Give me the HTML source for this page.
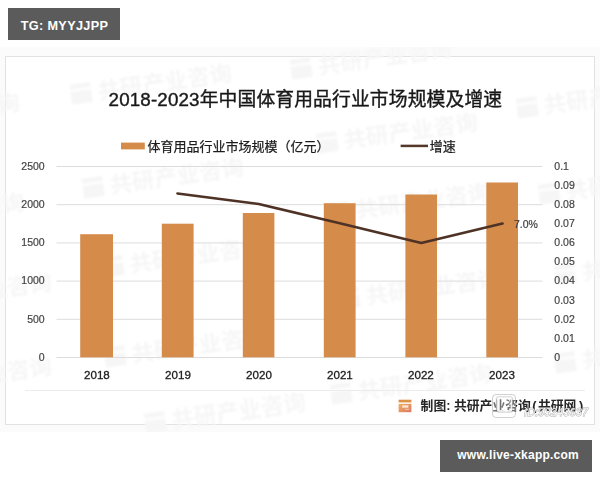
<!DOCTYPE html>
<html><head><meta charset="utf-8"><title>chart</title>
<style>html,body{margin:0;padding:0;background:#fff;font-family:"Liberation Sans",sans-serif;}svg{display:block}svg text{font-family:"Liberation Sans","Noto Sans CJK SC",sans-serif;}</style>
</head><body>
<svg width="600" height="480" viewBox="0 0 600 480">
<defs><filter id="wb" x="-5%" y="-5%" width="110%" height="110%"><feGaussianBlur stdDeviation="1.3"/></filter><filter id="b1" x="-20%" y="-20%" width="140%" height="140%"><feGaussianBlur stdDeviation="0.45"/></filter><linearGradient id="lg" x1="0" y1="0" x2="1" y2="1"><stop offset="0" stop-color="#f0b25e"/><stop offset="1" stop-color="#dc7668"/></linearGradient><filter id="soft" filterUnits="userSpaceOnUse" x="0" y="47" width="600" height="385"><feGaussianBlur stdDeviation="0.32"/></filter><clipPath id="ci"><rect x="0" y="47" width="600" height="385"/></clipPath><clipPath id="cc"><rect x="6" y="57" width="588" height="367"/></clipPath></defs>
<rect x="0" y="0" width="600" height="480" fill="#ffffff"/>
<g filter="url(#soft)">
<rect x="0" y="47" width="600" height="385" fill="#fbfbfb"/>
<rect x="5.5" y="56.5" width="589" height="368" fill="#ffffff" stroke="#e2e2e2" stroke-width="1"/>
<g filter="url(#wb)" clip-path="url(#ci)">
<g transform="rotate(-8 72 103)" fill="#f6f6f6"><rect x="72" y="84.6" width="20.7" height="5.1"/><rect x="72" y="92" width="20.7" height="12.7"/><text x="99.3" y="103.3" font-size="22.5" font-weight="bold">共研产业咨询</text></g>
<g transform="rotate(-8 84 197)" fill="#f6f6f6"><rect x="84" y="178.6" width="20.7" height="5.1"/><rect x="84" y="186" width="20.7" height="12.7"/><text x="111.3" y="197.3" font-size="22.5" font-weight="bold">共研产业咨询</text></g>
<g transform="rotate(-8 104 276)" fill="#f6f6f6"><rect x="104" y="257.6" width="20.7" height="5.1"/><rect x="104" y="265" width="20.7" height="12.7"/><text x="131.3" y="276.3" font-size="22.5" font-weight="bold">共研产业咨询</text></g>
<g transform="rotate(-8 106 366)" fill="#f6f6f6"><rect x="106" y="347.6" width="20.7" height="5.1"/><rect x="106" y="355" width="20.7" height="12.7"/><text x="133.3" y="366.3" font-size="22.5" font-weight="bold">共研产业咨询</text></g>
<g transform="rotate(-8 146 432)" fill="#f6f6f6"><rect x="146" y="413.6" width="20.7" height="5.1"/><rect x="146" y="421" width="20.7" height="12.7"/><text x="173.3" y="432.3" font-size="22.5" font-weight="bold">共研产业咨询</text></g>
<g transform="rotate(-8 -140 132)" fill="#f6f6f6"><rect x="-140" y="113.6" width="20.7" height="5.1"/><rect x="-140" y="121" width="20.7" height="12.7"/><text x="-112.7" y="132.3" font-size="22.5" font-weight="bold">共研产业咨询</text></g>
<g transform="rotate(-8 -135 232)" fill="#f6f6f6"><rect x="-135" y="213.6" width="20.7" height="5.1"/><rect x="-135" y="221" width="20.7" height="12.7"/><text x="-107.7" y="232.3" font-size="22.5" font-weight="bold">共研产业咨询</text></g>
<g transform="rotate(-8 -108 312)" fill="#f6f6f6"><rect x="-108" y="293.6" width="20.7" height="5.1"/><rect x="-108" y="301" width="20.7" height="12.7"/><text x="-80.7" y="312.3" font-size="22.5" font-weight="bold">共研产业咨询</text></g>
<g transform="rotate(-8 -108 396)" fill="#f6f6f6"><rect x="-108" y="377.6" width="20.7" height="5.1"/><rect x="-108" y="385" width="20.7" height="12.7"/><text x="-80.7" y="396.3" font-size="22.5" font-weight="bold">共研产业咨询</text></g>
<g transform="rotate(-8 292 78)" fill="#f6f6f6"><rect x="292" y="59.6" width="20.7" height="5.1"/><rect x="292" y="67" width="20.7" height="12.7"/><text x="319.3" y="78.3" font-size="22.5" font-weight="bold">共研产业咨询</text></g>
<g transform="rotate(-8 318 152)" fill="#f6f6f6"><rect x="318" y="133.6" width="20.7" height="5.1"/><rect x="318" y="141" width="20.7" height="12.7"/><text x="345.3" y="152.3" font-size="22.5" font-weight="bold">共研产业咨询</text></g>
<g transform="rotate(-8 518 117)" fill="#f6f6f6"><rect x="518" y="98.6" width="20.7" height="5.1"/><rect x="518" y="106" width="20.7" height="12.7"/><text x="545.3" y="117.3" font-size="22.5" font-weight="bold">共研产业咨询</text></g>
<g transform="rotate(-8 540 203)" fill="#f6f6f6"><rect x="540" y="184.6" width="20.7" height="5.1"/><rect x="540" y="192" width="20.7" height="12.7"/><text x="567.3" y="203.3" font-size="22.5" font-weight="bold">共研产业咨询</text></g>
<g transform="rotate(-8 330 222)" fill="#f6f6f6"><rect x="330" y="203.6" width="20.7" height="5.1"/><rect x="330" y="211" width="20.7" height="12.7"/><text x="357.3" y="222.3" font-size="22.5" font-weight="bold">共研产业咨询</text></g>
<g transform="rotate(-8 340 308)" fill="#f6f6f6"><rect x="340" y="289.6" width="20.7" height="5.1"/><rect x="340" y="297" width="20.7" height="12.7"/><text x="367.3" y="308.3" font-size="22.5" font-weight="bold">共研产业咨询</text></g>
<g transform="rotate(-8 332 403)" fill="#f6f6f6"><rect x="332" y="384.6" width="20.7" height="5.1"/><rect x="332" y="392" width="20.7" height="12.7"/><text x="359.3" y="403.3" font-size="22.5" font-weight="bold">共研产业咨询</text></g>
<g transform="rotate(-8 556 284)" fill="#f6f6f6"><rect x="556" y="265.6" width="20.7" height="5.1"/><rect x="556" y="273" width="20.7" height="12.7"/><text x="583.3" y="284.3" font-size="22.5" font-weight="bold">共研产业咨询</text></g>
<g transform="rotate(-8 556 372)" fill="#f6f6f6"><rect x="556" y="353.6" width="20.7" height="5.1"/><rect x="556" y="361" width="20.7" height="12.7"/><text x="583.3" y="372.3" font-size="22.5" font-weight="bold">共研产业咨询</text></g>
</g>
<line x1="56.5" x2="542.5" y1="357.5" y2="357.5" stroke="#dcdcdc" stroke-width="1"/>
<line x1="56.5" x2="542.5" y1="319.3" y2="319.3" stroke="#dcdcdc" stroke-width="1"/>
<line x1="56.5" x2="542.5" y1="281.1" y2="281.1" stroke="#dcdcdc" stroke-width="1"/>
<line x1="56.5" x2="542.5" y1="242.9" y2="242.9" stroke="#dcdcdc" stroke-width="1"/>
<line x1="56.5" x2="542.5" y1="204.7" y2="204.7" stroke="#dcdcdc" stroke-width="1"/>
<line x1="56.5" x2="542.5" y1="166.5" y2="166.5" stroke="#dcdcdc" stroke-width="1"/>
<line x1="25" x2="585" y1="390.5" y2="390.5" stroke="#ececec" stroke-width="1"/>
<rect x="80.2" y="234.2" width="32.8" height="123.1" fill="#d58c4c"/>
<rect x="161.8" y="223.7" width="31.8" height="133.6" fill="#d58c4c"/>
<rect x="242.8" y="213.0" width="31.6" height="144.3" fill="#d58c4c"/>
<rect x="323.8" y="203.2" width="31.8" height="154.1" fill="#d58c4c"/>
<rect x="405.4" y="194.5" width="31.6" height="162.8" fill="#d58c4c"/>
<rect x="486.3" y="182.5" width="31.7" height="174.8" fill="#d58c4c"/>
<polyline points="177.5,193.5 258.75,204 339.75,223.25 421.25,243 502.5,223.5" fill="none" stroke="#4f3325" stroke-width="2.7" stroke-linecap="round" stroke-linejoin="round"/>
<text x="108.6" y="106" font-size="18.8" fill="#1a1a1a" stroke="#1a1a1a" stroke-width="0.4" textLength="393.5" lengthAdjust="spacing">2018-2023年中国体育用品行业市场规模及增速</text>
<rect x="121" y="142.6" width="23.8" height="6.8" fill="#d58c4c"/>
<text x="147.5" y="151.2" font-size="13" fill="#1e1e1e" stroke="#1e1e1e" stroke-width="0.25">体育用品行业市场规模（亿元）</text>
<line x1="400.6" x2="428" y1="145.9" y2="145.9" stroke="#54382c" stroke-width="2.5"/>
<text x="429.8" y="151.2" font-size="13" fill="#1e1e1e" stroke="#1e1e1e" stroke-width="0.25">增速</text>
<g font-size="10.5" fill="#444" stroke="#444" stroke-width="0.2" text-anchor="end">
<text x="44.7" y="360.8">0</text>
<text x="44.7" y="322.6">500</text>
<text x="44.7" y="284.4">1000</text>
<text x="44.7" y="246.2">1500</text>
<text x="44.7" y="208">2000</text>
<text x="44.7" y="169.8">2500</text>
</g>
<g font-size="10.5" fill="#444" stroke="#444" stroke-width="0.2" text-anchor="start">
<text x="554.3" y="360.8">0</text>
<text x="554.3" y="341.7">0.01</text>
<text x="554.3" y="322.6">0.02</text>
<text x="554.3" y="303.5">0.03</text>
<text x="554.3" y="284.4">0.04</text>
<text x="554.3" y="265.3">0.05</text>
<text x="554.3" y="246.2">0.06</text>
<text x="554.3" y="227.1">0.07</text>
<text x="554.3" y="208">0.08</text>
<text x="554.3" y="188.9">0.09</text>
<text x="554.3" y="169.8">0.1</text>
</g>
<g font-size="11.6" fill="#1c1c1c" stroke="#1c1c1c" stroke-width="0.3" text-anchor="middle">
<text x="96.9" y="378.6">2018</text>
<text x="178" y="378.6">2019</text>
<text x="259" y="378.6">2020</text>
<text x="339.9" y="378.6">2021</text>
<text x="420.9" y="378.6">2022</text>
<text x="502" y="378.6">2023</text>
</g>
<text x="514" y="227.8" font-size="10.5" fill="#3a3a3a" stroke="#444" stroke-width="0.2">7.0%</text>
<text y="409.8" font-size="12.8" font-weight="bold" fill="#262626"><tspan x="420.6">制图:</tspan><tspan x="454">共研产业咨询</tspan><tspan x="532.2">(</tspan><tspan x="538">共研网</tspan><tspan x="579">)</tspan></text>
<g filter="url(#b1)"><rect x="398.6" y="399.7" width="12.8" height="2.7" fill="#dc9246"/><rect x="398.6" y="403.8" width="12.8" height="8.4" fill="url(#lg)"/><rect x="402.2" y="405.3" width="6.2" height="2.4" fill="#fbe6d2"/><rect x="405.2" y="408.8" width="4" height="1" fill="#f6cdb8"/></g>
<g><rect x="492.5" y="394.5" width="23" height="23" rx="3.5" fill="rgba(255,255,255,0.35)" stroke="rgba(170,170,170,0.55)" stroke-width="1"/><rect x="497.5" y="398" width="14" height="13" rx="1.5" fill="none" stroke="rgba(255,255,255,0.85)" stroke-width="1.8"/><rect x="496.3" y="396.8" width="16.4" height="15.4" rx="2" fill="none" stroke="rgba(90,90,90,0.45)" stroke-width="0.6"/></g>
<text x="524" y="416.3" font-size="11" font-style="italic" fill="rgba(255,255,255,0.9)" stroke="rgba(120,120,120,0.6)" stroke-width="0.9" paint-order="stroke" textLength="64" lengthAdjust="spacing">ID:93243637</text>
</g>
<rect x="8" y="8" width="112" height="32" fill="#5b5b5b"/>
<text x="20.7" y="29.7" font-size="12.7" font-weight="bold" fill="#fff" textLength="87.3" lengthAdjust="spacing">TG: MYYJJPP</text>
<rect x="440" y="440" width="152" height="32" fill="#5b5b5b"/>
<text x="457.3" y="458.6" font-size="12" font-weight="bold" fill="#fff" textLength="121.4" lengthAdjust="spacing">www.live-xkapp.com</text>
</svg>
</body></html>
